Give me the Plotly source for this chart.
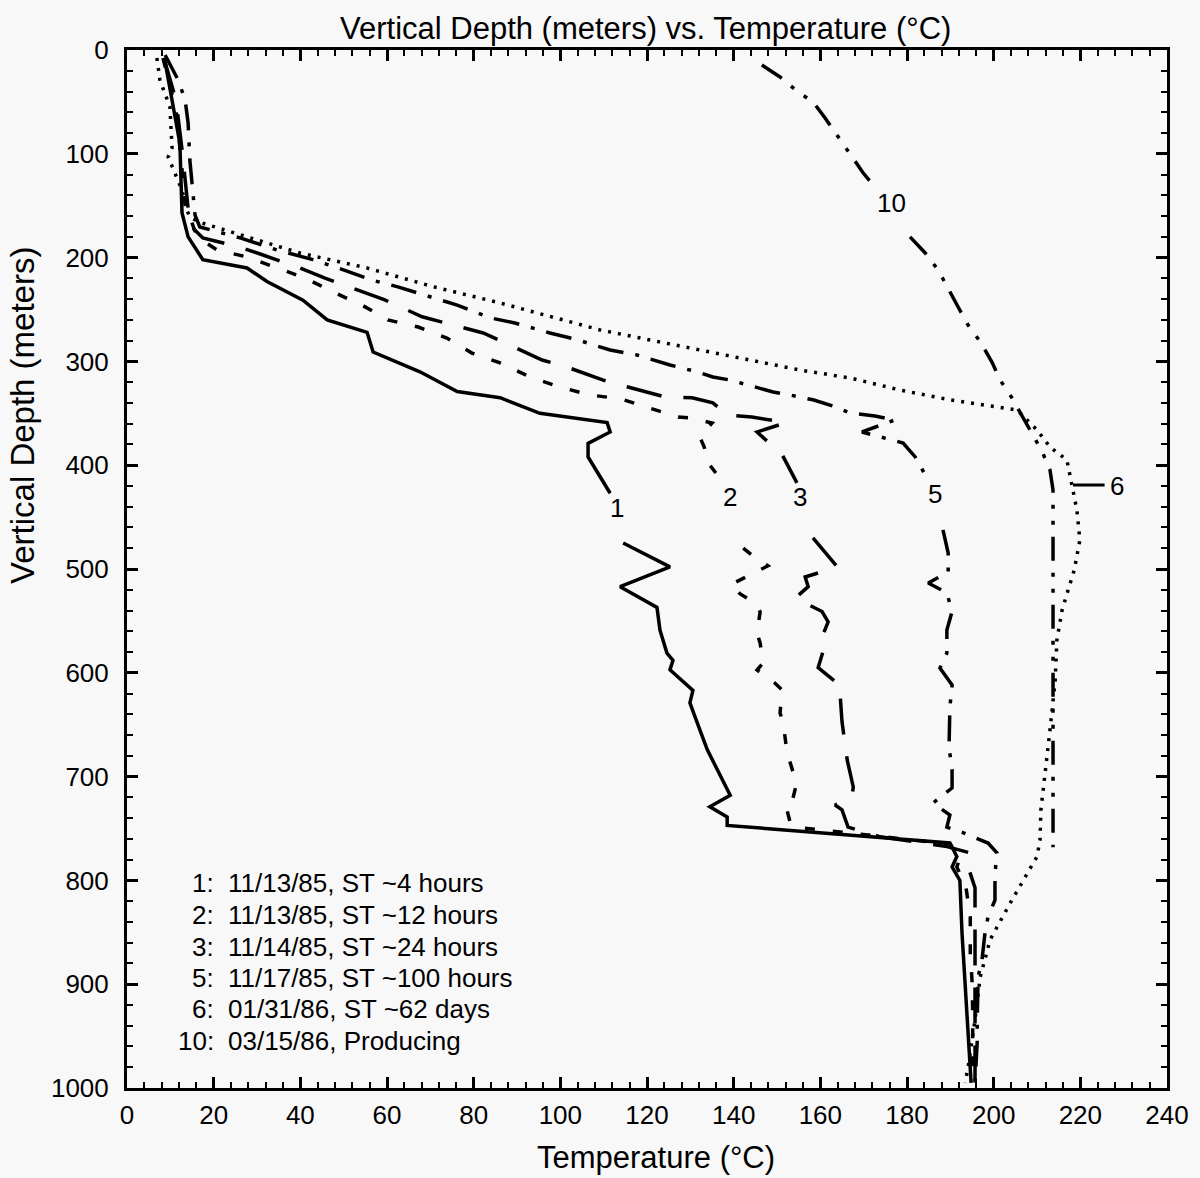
import plotly.graph_objects as go

# ---------------- data ----------------
curve1_temp = [8.8, 10.4, 12.2, 12.7, 14.1, 17.5, 27.7, 32.3, 40.6, 46.2, 55.4, 56.8, 61.4, 67.6, 76.2, 86.1,
               95.3, 110.8, 111.5, 106.4, 106.4, 109.2, 111.5, None,
               114.5, 125.3, 113.8, 122.3, 123.0, 124.6, 126.0, 125.3, 130.6, 129.9, 132.2, 133.9, 139.2,
               134.5, 138.5, 138.5, 189.9, 191.5, 190.4, 192.2, 192.7, 193.4, 194.1, 194.8]
curve1_depth = [11.6, 48, 90, 157, 180, 202, 210, 223, 241, 260, 272, 291, 299, 310, 329, 335,
                350, 359, 368, 379, 392, 411, 427, None,
                475, 498, 517, 537, 559, 581, 588, 597, 617, 629, 655, 674, 718,
                729, 739, 747, 764, 777, 787, 800, 851, 899, 947, 995]

curve2_temp = [8.3, 11.3, 12.5, 13.4, 16.2, 20.8, 27.7, 34.2, 41.1, 47.5, 54.2, 60.2, 67.2, 73.8, 79.6, 86.1,
               93.0, 99.9, 106.9, 113.8, 120.7, 127.2, 129.9, 135.0, 132.2, 133.2, 134.1, 135.9, None,
               142.2, 144.2, 147.9, 139.2, 141.5, 144.9, 146.1, 145.4, 146.1, 146.8, 145.4, 149.5, 151.2,
               150.7, 151.4, 152.1, 152.3, 153.7, 154.6, 153.7, 151.9, 153.0, 154.2, 189.9, 192.2, 191.5,
               193.6, 194.6, 194.6, 195.0, 195.2, 195.0]
curve2_depth = [7.7, 57.8, 106, 149, 180, 192.7, 199.4, 209, 219.7, 233, 245.7, 260, 266.9, 277.5, 292, 301.5,
                315, 324.7, 332.4, 336, 345, 353.6, 354.5, 359.3, 372.8, 382.5, 397.9, 407.5, None,
                479.8, 486.5, 497, 515.4, 524, 532.8, 541.4, 561.7, 571.3, 590.6, 597.3, 609.8, 616.6,
                638.7, 647.4, 666.7, 676.3, 695.6, 705.2, 720.6, 725.4, 743.7, 748.6, 765, 778.4, 787,
                806.4, 835.3, 870, 896, 934.5, 995]

curve3_temp = [8.5, 11.3, 12.7, 13.6, 14.5, 17.5, 26.1, 31.4, 39.9, 45.7, 54.2, 59.5, 68.1, 73.4, 82.2, 87.2,
               95.8, 101.5, 109.9, 115.6, 124.2, 130.4, 135.2, 138.5, 144.2, 152.1, 145.4, 151.2, 154.6, None,
               158.3, 163.9, 156.5, 157.2, 154.2, 160.4, 161.8, 160.4, 161.1, 159.5, 163.9, 165.2, 164.6,
               165.0, 166.2, 167.6, 167.3, 163.4, 165.0, 166.4, 173.8, 188.8, 194.6, 194.1, 195.7, 195.7,
               195.9, 195.7]
curve3_depth = [7.7, 48, 96, 135, 168.6, 181, 190, 197.5, 210, 219.7, 233, 240.8, 257, 263, 272.6, 282,
                298.7, 305.4, 318, 324.7, 334.3, 335, 340, 351.6, 353.6, 359, 368, 390, 417, None,
                470, 498, 507.7, 517, 528, 541, 551, 565.5, 573, 595, 610, 616.6, 623,
                647, 684, 710, 719.7, 727.4, 732, 748.6, 758, 767, 773.6, 787, 807, 857,
                915, 995]

curve5_temp = [8.8, 11.8, 13.4, 14.1, 14.5, 15.0, 15.7, 16.8, 26.1, 34.6, 42.9, 48.7, 56.5, 62.3, 70.4, 76.2,
               83.8, 89.5, 97.6, 103.9, 107.5, 111.5, 117.7, 121.4, 125.3, 131.5, 135.2, 139.2, 145.4,
               149.1, 153.0, 158.3, 162.9, 166.9, 172.6, 177.2, 169.6, 173.8, 179.1, 181.9, 184.2, None,
               188.3, 189.5, 189.5, 184.9, 189.2, 190.4, 189.2, 189.2, 187.6, 190.4, 189.9, 189.9, 189.7,
               190.4, 190.4, 186.0, 189.9, 189.2, 192.9, 198.7, 200.8, 200.3, 200.3, 198.7, 198.0, 197.3,
               196.4, 196.2, 196.2, 195.7]
curve5_depth = [4.8, 28.9, 48, 70, 106, 132, 159, 170.5, 181, 192.7, 202, 210, 221.6, 228, 238, 245.7,
                258, 263, 272.6, 279, 284, 289, 293.8, 298.7, 303.5, 310, 315, 318, 324.7,
                329.5, 332.4, 337, 343, 349.7, 352.6, 356.4, 368, 372.8, 378.6, 392, 409.4, None,
                462.4, 484.6, 503, 513.5, 523, 541, 558.8, 581, 595.4, 611.8, 633, 653, 671.5,
                693.6, 711, 725.4, 737, 748.6, 754, 764, 773.6, 793, 819, 835, 850.7, 876.7,
                893, 937, 955.7, 995]

curve6_temp = [6.9, 7.6, 9.9, 10.4, 9.5, 11.5, 12.7, 13.8, 14.5, 16.8, 24.5, 39.9, 55.4, 70.6, 86.1, 109.2,
               132.2, 155.3, 166.9, 178.4, 189.9, 201.5, 205.4, 210.0, 213.0, 216.9, 218.1, 219.2, 219.9,
               218.6, 217.2, 215.8, 214.6, 214.2, 213.0, 211.9, 210.9, 210.7, 210.0, 203.8, 199.2, 196.9,
               195.7, 194.1, 193.4]
curve6_depth = [7.7, 28.9, 54.9, 94.4, 103, 122, 135, 154, 161, 166, 176, 195.6, 210, 228, 243.7, 269.7,
                289, 308.3, 316, 327.6, 337, 344, 346.8, 366, 382.5, 395, 421, 443, 472,
                501, 520, 539.5, 568, 607, 655, 694, 732, 761, 777, 822, 857, 893,
                934, 980, 995]

curve10_temp = [146.5, 150.7, 154.9, 158.3, 161.1, 163.9, 167.3, 169.9, 172.2, None,
                180.7, 184.2, 187.2, 189.5, 191.8, 194.1, 196.9, 199.6, 201.5, 204.2, 206.5, 208.8,
                211.2, 213.0, 213.7, 213.7, 213.7, 213.7]
curve10_depth = [14.5, 26, 40.5, 50, 65.5, 82, 103, 118.5, 130, None,
                 180, 195.5, 212, 229, 247.6, 265, 281, 300.6, 318, 335, 351.6, 369,
                 387, 404.6, 424, 523, 626, 768]

curve_labels = ["1", "2", "3", "5", "6", "10"]
label_temp = [113.1, 139.2, 155.3, 186.5, 228.5, 176.5]
label_depth = [441, 431, 431, 428, 420, 147]

legend_numbers = ["1:", "2:", "3:", "5:", "6:", "10:"]
legend_texts = ["11/13/85, ST ~4 hours", "11/13/85, ST ~12 hours", "11/14/85, ST ~24 hours",
                "11/17/85, ST ~100 hours", "01/31/86, ST ~62 days", "03/15/86, Producing"]

x_ticks = [0, 20, 40, 60, 80, 100, 120, 140, 160, 180, 200, 220, 240]
y_ticks = [0, 100, 200, 300, 400, 500, 600, 700, 800, 900, 1000]

# ---------------- figure ----------------
FONT = "Liberation Sans, Arial, Helvetica, sans-serif"
BG = "#f8f8f8"

fig = go.Figure()

series = [
    (curve1_temp, curve1_depth, "solid"),
    (curve2_temp, curve2_depth, "10px,18px"),
    (curve3_temp, curve3_depth, "36px,22px"),
    (curve5_temp, curve5_depth, "26px,12px,4px,12px"),
    (curve6_temp, curve6_depth, "3px,7px"),
    (curve10_temp, curve10_depth, "24px,12px,4px,12px,4px,12px"),
]
for t, d, dash in series:
    fig.add_trace(go.Scatter(x=t, y=d, mode="lines", connectgaps=False,
                             line=dict(color="black", width=3.5, dash=dash),
                             showlegend=False, hoverinfo="skip"))

for txt, t, d in zip(curve_labels, label_temp, label_depth):
    fig.add_annotation(x=t, y=d, text=txt, showarrow=False, xref="x", yref="y",
                       font=dict(family=FONT, size=26, color="black"))

# leader line for label 6
fig.add_shape(type="line", x0=218.3, x1=225.6, y0=419, y1=419, xref="x", yref="y",
              line=dict(color="black", width=3))

legend_y = [802.5, 833, 864, 893.6, 924, 955]
for num, txt, d in zip(legend_numbers, legend_texts, legend_y):
    fig.add_annotation(x=20.6, y=d, text=num, showarrow=False, xanchor="right",
                       font=dict(family=FONT, size=26, color="black"))
    fig.add_annotation(x=22.9, y=d, text=txt, showarrow=False, xanchor="left",
                       font=dict(family=FONT, size=26, color="black"))

axis_common = dict(showline=True, linecolor="black", linewidth=3, mirror="allticks",
                   ticks="inside", ticklen=11, tickwidth=2.5, tickcolor="black",
                   showgrid=False, zeroline=False,
                   tickfont=dict(family=FONT, size=26, color="black"))

fig.update_xaxes(range=[0, 240], tickmode="array", tickvals=x_ticks,
                 ticktext=[str(v) for v in x_ticks],
                 minor=dict(dtick=4, ticks="inside", ticklen=6, tickwidth=2, tickcolor="black"),
                 ticklabelstandoff=2, **axis_common)
fig.update_yaxes(range=[1000, 0], tickmode="array", tickvals=y_ticks,
                 ticktext=[str(v) for v in y_ticks],
                 minor=dict(dtick=20, ticks="inside", ticklen=6, tickwidth=2, tickcolor="black"),
                 ticklabelstandoff=10, **axis_common)

fig.add_annotation(text="Vertical Depth (meters) vs. Temperature (°C)", xref="paper", yref="paper",
                   x=0.499, y=1 + 22 / 1038, yanchor="middle", showarrow=False,
                   font=dict(family=FONT, size=31, color="black"))
fig.add_annotation(text="Temperature (°C)", xref="paper", yref="paper",
                   x=0.509, y=-(1157 - 1088) / 1038, yanchor="middle", showarrow=False,
                   font=dict(family=FONT, size=31, color="black"))
fig.add_annotation(text="Vertical Depth (meters)", xref="paper", yref="paper",
                   x=(22 - 127) / 1040, y=1 - (416 - 50) / 1038, xanchor="center", yanchor="middle",
                   textangle=-90, showarrow=False,
                   font=dict(family=FONT, size=33, color="black"))

fig.update_layout(width=1200, height=1178, margin=dict(l=127, r=33, t=50, b=90),
                  paper_bgcolor=BG, plot_bgcolor=BG, showlegend=False)

fig.write_html("out.html")
